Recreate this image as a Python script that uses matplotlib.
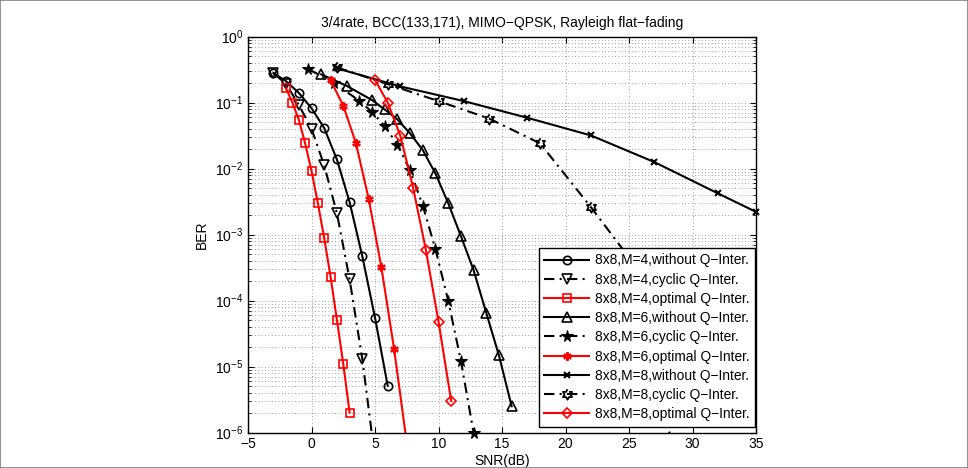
import numpy as np
import matplotlib
matplotlib.use("Agg")
import matplotlib.pyplot as plt
from matplotlib.patches import Rectangle

plt.rcParams['font.family'] = ['Liberation Sans', 'DejaVu Sans']
plt.rcParams['mathtext.fontset'] = 'custom'
plt.rcParams['mathtext.rm'] = 'Liberation Sans'
plt.rcParams['mathtext.it'] = 'Liberation Sans:italic'

# M=4
snr_m4_without = [-3, -2, -1, 0, 1, 2, 3, 4, 5, 6]
ber_m4_without = [0.28, 0.21, 0.14, 0.082, 0.041, 0.0137, 3.1e-3, 4.7e-4, 5.5e-5, 5.1e-6]
snr_m4_cyclic = [-3, -2, -1, 0, 1, 2, 3, 4, 5]
ber_m4_cyclic = [0.28, 0.19, 0.092, 0.040, 0.0112, 2.1e-3, 2.1e-4, 1.3e-5, 4e-7]
snr_m4_opt = [-2, -1.5, -1, -0.5, 0, 0.5, 1, 1.5, 2, 2.5, 3]
ber_m4_opt = [0.164, 0.099, 0.055, 0.024, 9.2e-3, 3.0e-3, 8.8e-4, 2.3e-4, 5.1e-5, 1.1e-5, 2.0e-6]

# M=6
snr_m6_without = [0.76, 2.76, 4.76, 5.76, 6.76, 7.76, 8.76, 9.76, 10.76, 11.76, 12.76, 13.76, 14.76, 15.76]
ber_m6_without = [0.267, 0.179, 0.109, 0.0785, 0.0554, 0.034, 0.019, 8.4e-3, 3.0e-3, 9.5e-4, 2.9e-4, 6.5e-5, 1.47e-5, 2.5e-6]
snr_m6_cyclic = [-0.24, 1.76, 3.76, 4.76, 5.76, 6.76, 7.76, 8.76, 9.76, 10.76, 11.76, 12.76]
ber_m6_cyclic = [0.32, 0.20, 0.106, 0.072, 0.044, 0.023, 9.4e-3, 2.75e-3, 6e-4, 1.0e-4, 1.23e-5, 1.0e-6]
snr_m6_opt = [1.5, 2.5, 3.5, 4.5, 5.5, 6.5, 7.5]
ber_m6_opt = [0.216, 0.090, 0.024, 3.5e-3, 3.2e-4, 1.86e-5, 7e-7]

# M=8
snr_m8_without = [2, 7, 12, 17, 22, 27, 32, 35]
ber_m8_without = [0.33, 0.175, 0.105, 0.0586, 0.0317, 0.0125, 4.2e-3, 2.2e-3]
snr_m8_cyclic = [2, 6, 10, 14, 18, 22, 26, 30]
ber_m8_cyclic = [0.34, 0.19, 0.105, 0.057, 0.024, 2.6e-3, 2.5e-4, 1e-8]
snr_m8_opt = [5, 6, 7, 8, 9, 10, 11]
ber_m8_opt = [0.219, 0.10, 0.031, 5.1e-3, 5.9e-4, 4.8e-5, 3.0e-6]

labels = ['8x8,M=4,without Q\u2212Inter.', '8x8,M=4,cyclic Q\u2212Inter.', '8x8,M=4,optimal Q\u2212Inter.',
          '8x8,M=6,without Q\u2212Inter.', '8x8,M=6,cyclic Q\u2212Inter.', '8x8,M=6,optimal Q\u2212Inter.',
          '8x8,M=8,without Q\u2212Inter.', '8x8,M=8,cyclic Q\u2212Inter.', '8x8,M=8,optimal Q\u2212Inter.']

# six-pointed star marker (MATLAB hexagram)
ang = np.pi / 2 + np.arange(12) * np.pi / 6
rad = np.where(np.arange(12) % 2 == 0, 1.0, 0.577)
hexagram = list(zip(rad * np.cos(ang), rad * np.sin(ang)))

dd = (5, 2.5, 1, 2.5)
lw = 1.5

fig = plt.figure(figsize=(9.68, 4.68), dpi=100)
ax = fig.add_axes([248/968, 1-432.5/468, 508/968, 396/468])

ax.semilogy(snr_m4_without, ber_m4_without, 'k-', marker='o', ms=6, mfc='none', mew=1.2, lw=lw, label=labels[0])
ax.semilogy(snr_m4_cyclic, ber_m4_cyclic, 'k', marker='v', ms=7, mfc='none', mew=1.2, lw=lw, dashes=dd, label=labels[1])
ax.semilogy(snr_m4_opt, ber_m4_opt, 'r-', marker='s', ms=5.5, mfc='none', mew=1.2, lw=lw, label=labels[2])
ax.semilogy(snr_m6_without, ber_m6_without, 'k-', marker='^', ms=7, mfc='none', mew=1.2, lw=lw, label=labels[3])
ax.semilogy(snr_m6_cyclic, ber_m6_cyclic, 'k', marker='*', ms=8.5, mfc='k', mew=0.8, lw=lw, dashes=dd, label=labels[4], clip_on=False)
ax.semilogy(snr_m6_opt, ber_m6_opt, 'r-', marker=(6, 2, 0), ms=6, mew=1.6, lw=lw, label=labels[5])
ax.semilogy(snr_m8_without, ber_m8_without, 'k-', marker='x', ms=5, mew=1.5, lw=lw, label=labels[6], clip_on=False)
ax.semilogy(snr_m8_cyclic, ber_m8_cyclic, 'k', marker=hexagram, ms=7.5, mfc='none', mew=1.3, lw=lw, dashes=dd, label=labels[7])
ax.semilogy(snr_m8_opt, ber_m8_opt, 'r-', marker='D', ms=5.5, mfc='none', mew=1.2, lw=lw, label=labels[8])

ax.set_xlim(-5, 35)
ax.set_ylim(1e-6, 1)
ax.set_xticks(np.arange(-5, 36, 5))
ax.grid(True, which='major', color='0.5', lw=0.6, dashes=(1, 3))
ax.grid(True, which='minor', axis='y', color='0.5', lw=0.6, dashes=(1, 3))
ax.tick_params(which='both', direction='in', top=True, right=True, labelsize=10)
ax.tick_params(which='major', length=4)
ax.tick_params(which='minor', length=2.5)
for s in ax.spines.values():
    s.set_linewidth(1.0)

ax.set_xlabel('SNR(dB)', fontsize=10, labelpad=2)
ax.set_ylabel('BER', fontsize=10, labelpad=4)
ax.set_title('3/4rate, BCC(133,171), MIMO\u2212QPSK, Rayleigh flat\u2212fading', fontsize=10, pad=7)

leg = ax.legend(loc='lower right', bbox_to_anchor=(755/968, 1-426.7/468), bbox_transform=fig.transFigure,
                borderaxespad=0, fontsize=9.9, numpoints=1, handlelength=3.3, handletextpad=0.4,
                labelspacing=0.38, borderpad=0.4, fancybox=False, framealpha=1, edgecolor='k')
leg.get_frame().set_linewidth(1.0)

fig.patches.append(Rectangle((0, 0), 1, 1, transform=fig.transFigure, fill=False, edgecolor='0.5', lw=1.2))

fig.savefig('out.png', dpi=100)
